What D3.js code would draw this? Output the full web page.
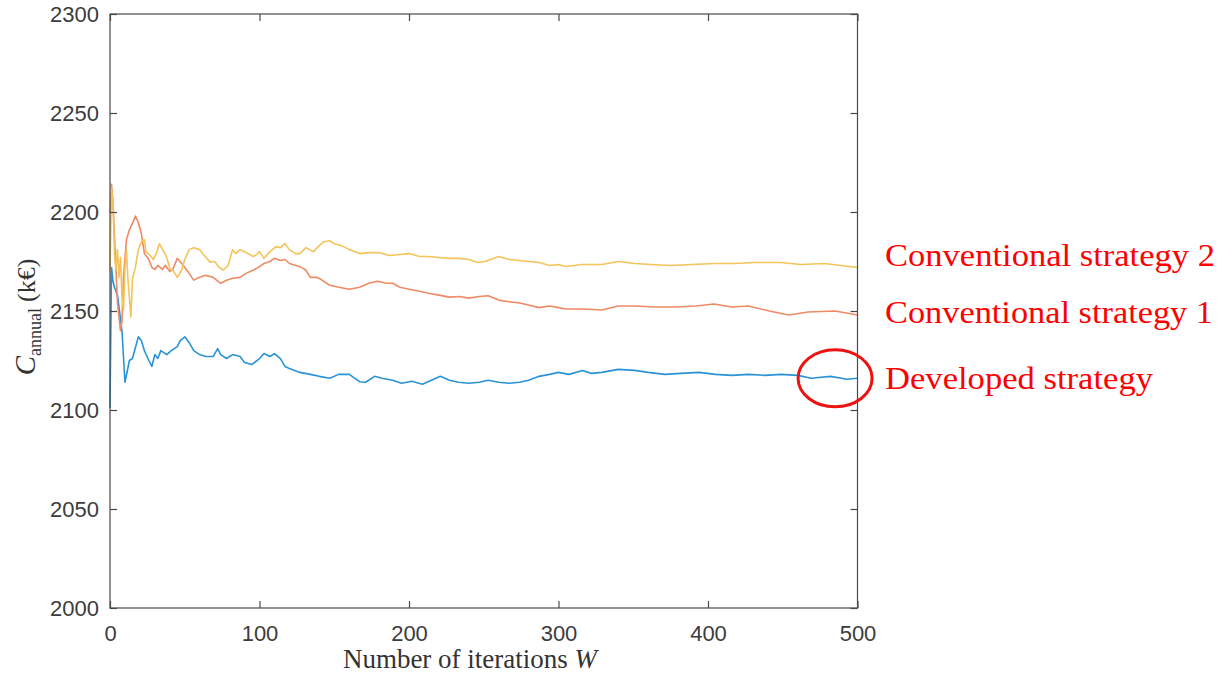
<!DOCTYPE html>
<html>
<head>
<meta charset="utf-8">
<script src="https://cdn.jsdelivr.net/npm/d3@7"></script>
<style>
  html, body { margin: 0; padding: 0; background: #fff; }
  svg { display: block; }
</style>
</head>
<body>
<svg id="chart" width="1224" height="675"></svg>
<script>
// ---- data ----
const xTicks = [0, 100, 200, 300, 400, 500];
const yTicks = [2000, 2050, 2100, 2150, 2200, 2250, 2300];

const seriesNames = ["Developed strategy", "Conventional strategy 1", "Conventional strategy 2"];

const iterDeveloped = [0,1,2,3,5,8,10,13,15,19,21,23,26,28,30,32,34,38,41,43,45,47,50,53,56,60,64,69,72,74,78,82,87,90,95,100,103,107,110,114,117,120,127,134,140,147,153,160,167,171,177,182,189,195,202,209,215,221,227,233,240,247,253,260,267,274,280,287,294,300,307,316,322,329,340,351,360,371,382,394,405,416,427,438,449,460,469,482,493,500];
const valDeveloped = [2101,2172,2165,2162,2158,2140,2114,2125,2126,2137,2135,2130,2125,2122,2128,2126,2130,2128,2130,2131,2132,2135,2137,2134,2130,2128,2127,2127,2131,2128,2126,2128,2127,2124,2123,2126,2128.5,2127,2128.5,2126,2122,2121,2119,2118,2117,2116,2118,2118,2114.3,2114,2117,2116,2115,2113.5,2114.5,2113,2115,2117,2115,2114,2113.5,2114,2115,2114,2113.5,2114,2115,2117,2118,2119,2118,2120,2118.5,2119,2120.5,2120,2119,2118,2118.5,2119,2118,2117.5,2118,2117.5,2118,2117.5,2116,2117,2115.5,2116];

const iterConv1 = [0,1,2,3,4,5,7,8,9,11,13,16,17,19,21,23,26,28,30,32,35,37,40,42,45,48,52,56,60,64,69,74,78,82,87,91,96,100,103,107,110,114,117,120,127,131,134,138,141,147,153,160,167,173,179,185,189,194,200,207,213,220,227,234,240,247,253,260,267,274,280,287,294,300,305,316,329,340,351,365,378,392,404,416,427,441,454,467,485,500];
const valConv1 = [2200,2214,2205,2187.5,2171,2154,2140,2145,2167,2186,2191,2196,2198,2194.6,2189,2179,2176,2172,2171,2173,2171,2173,2170,2171,2176.6,2174,2170,2165.6,2167,2168,2167,2164,2165.5,2166.5,2167,2169,2170.7,2172.4,2174,2175,2176.6,2175.5,2176,2174,2172.4,2170.7,2167,2167,2166,2163,2162,2161,2162,2164,2165,2164,2164,2162,2161,2160,2159,2158,2157,2157.3,2156.5,2157.3,2157.7,2155.5,2154.7,2154,2153,2151.7,2152.5,2151.7,2151,2151,2150.5,2152.5,2152.5,2152,2152,2152.5,2153.5,2152,2152.5,2150,2148,2149.5,2150,2148];

const iterConv2 = [0,1,2,3,4,5,6,7,8,9,10,11,12,14,15,17,18,19,21,23,24,27,29,31,33,36,38,40,42,45,48,50,53,56,60,63,67,70,73,76,79,82,84,87,91,96,99,100,103,107,111,114,117,120,124,127,131,136,140,143,147,150,155,160,167,173,180,187,194,200,207,213,220,227,234,240,246,251,260,267,274,280,287,294,300,305,316,329,340,351,362,375,389,405,418,431,449,462,478,500];
const valConv2 = [2170,2212,2204,2179,2171,2181,2167,2177,2157,2150.5,2171,2181,2166,2147,2166,2172,2177,2181,2185,2186,2180,2178,2176,2179,2184,2180,2177,2171.5,2170.7,2167,2170.7,2176,2181,2182,2181,2178,2174.7,2175,2172,2170.7,2173,2181,2179,2181,2179.5,2177.5,2179,2180,2176.6,2180,2182.5,2182,2184,2181,2179,2179,2182,2180,2183,2185,2185.5,2184,2183,2181,2179,2179.5,2179.5,2178,2178.5,2179,2177.5,2177.5,2177,2176.6,2176.6,2176,2174.5,2175,2177.5,2176,2175.5,2175,2174.5,2173,2173.5,2172.5,2173.5,2173.5,2175,2174,2173.5,2173,2173.5,2174,2174,2174.5,2174.5,2173.5,2174,2172];

// annotation (highlight) position in data units
const highlightIter = 485;
const highlightVal = 2116;

// ---- drawing ----
const svg = d3.select("#chart");
const mLeft = 110, mRight = 857.5, mTop = 14, mBottom = 608;

const x = d3.scaleLinear().domain([0, 500]).range([mLeft, mRight]);
const y = d3.scaleLinear().domain([2000, 2300]).range([mBottom, mTop]);

const axisColor = "#4a4a4a";
const tickLen = 7;

// series
const series = [
  { name: seriesNames[0], it: iterDeveloped, v: valDeveloped, color: "#2a93d5" },
  { name: seriesNames[1], it: iterConv1, v: valConv1, color: "#ee8a64" },
  { name: seriesNames[2], it: iterConv2, v: valConv2, color: "#f4c35a" }
];
const line = d3.line().x(d => x(d[0])).y(d => y(d[1]));
const gLines = svg.append("g");
series.forEach(s => {
  const pts = s.it.map((t, i) => [t, s.v[i]]);
  gLines.append("path")
    .datum(pts)
    .attr("d", line)
    .attr("fill", "none")
    .attr("stroke", s.color)
    .attr("stroke-width", 1.6)
    .attr("stroke-linejoin", "round");
});

// box
svg.append("rect")
  .attr("x", mLeft).attr("y", mTop)
  .attr("width", mRight - mLeft).attr("height", mBottom - mTop)
  .attr("fill", "none").attr("stroke", axisColor).attr("stroke-width", 1.2);

// axes
const fmt = d3.format("d");
const xAxis = d3.axisBottom(x).tickValues(xTicks).tickFormat(fmt).tickSizeInner(-tickLen).tickSizeOuter(0).tickPadding(17);
const gx = svg.append("g").attr("transform", `translate(0,${mBottom})`).call(xAxis);
const xAxisTop = d3.axisTop(x).tickValues(xTicks).tickSizeInner(-tickLen).tickSizeOuter(0).tickFormat("");
const gxt = svg.append("g").attr("transform", `translate(0,${mTop})`).call(xAxisTop);
const yAxis = d3.axisLeft(y).tickValues(yTicks).tickFormat(fmt).tickSizeInner(-tickLen).tickSizeOuter(0).tickPadding(11);
const gy = svg.append("g").attr("transform", `translate(${mLeft},0)`).call(yAxis);
const yAxisRight = d3.axisRight(y).tickValues(yTicks).tickSizeInner(-tickLen).tickSizeOuter(0).tickFormat("");
const gyr = svg.append("g").attr("transform", `translate(${mRight},0)`).call(yAxisRight);

[gx, gxt, gy, gyr].forEach(g => {
  g.select(".domain").remove();
  g.selectAll(".tick line").attr("stroke", axisColor).attr("stroke-width", 1.2);
  g.selectAll(".tick text")
    .attr("fill", "#3c3c3c")
    .style("font-family", "'Liberation Sans', Arial, sans-serif")
    .style("font-size", "22px");
});
gx.selectAll(".tick text").attr("dy", "0.71em");

// axis titles
const xTitle = svg.append("text")
  .attr("x", 470)
  .attr("y", 668)
  .attr("text-anchor", "middle")
  .attr("fill", "#333")
  .style("font-family", "'Liberation Serif', 'Times New Roman', serif")
  .style("font-size", "27px");
xTitle.append("tspan").text("Number of iterations\u00a0");
xTitle.append("tspan").style("font-style", "italic").text("W");

const yTitle = svg.append("text")
  .attr("transform", `translate(35,${(mTop + mBottom) / 2 + 6}) rotate(-90)`)
  .attr("text-anchor", "middle")
  .attr("fill", "#333")
  .style("font-family", "'Liberation Serif', 'Times New Roman', serif")
  .style("font-size", "26px");
yTitle.append("tspan").style("font-style", "italic").style("font-size", "29px").text("C");
yTitle.append("tspan").attr("dy", 6).style("font-size", "18px").text("annual");
yTitle.append("tspan").attr("dy", -6).attr("dx", 6).text("(k€)");

// annotations
svg.append("ellipse")
  .attr("cx", x(highlightIter)).attr("cy", y(highlightVal))
  .attr("rx", 37).attr("ry", 28.5)
  .attr("fill", "none").attr("stroke", "#ee1111").attr("stroke-width", 3);

const labelBaselines = [389, 323, 266];
const labelWidths = [268, 328, 330];
[0, 1, 2].forEach(k => {
  svg.append("text")
    .attr("x", 885)
    .attr("y", labelBaselines[k])
    .attr("fill", "#ff0000")
    .attr("textLength", labelWidths[k])
    .attr("lengthAdjust", "spacingAndGlyphs")
    .style("font-family", "'Liberation Serif', 'Times New Roman', serif")
    .style("font-size", "31px")
    .text(seriesNames[k]);
});
</script>
</body>
</html>
